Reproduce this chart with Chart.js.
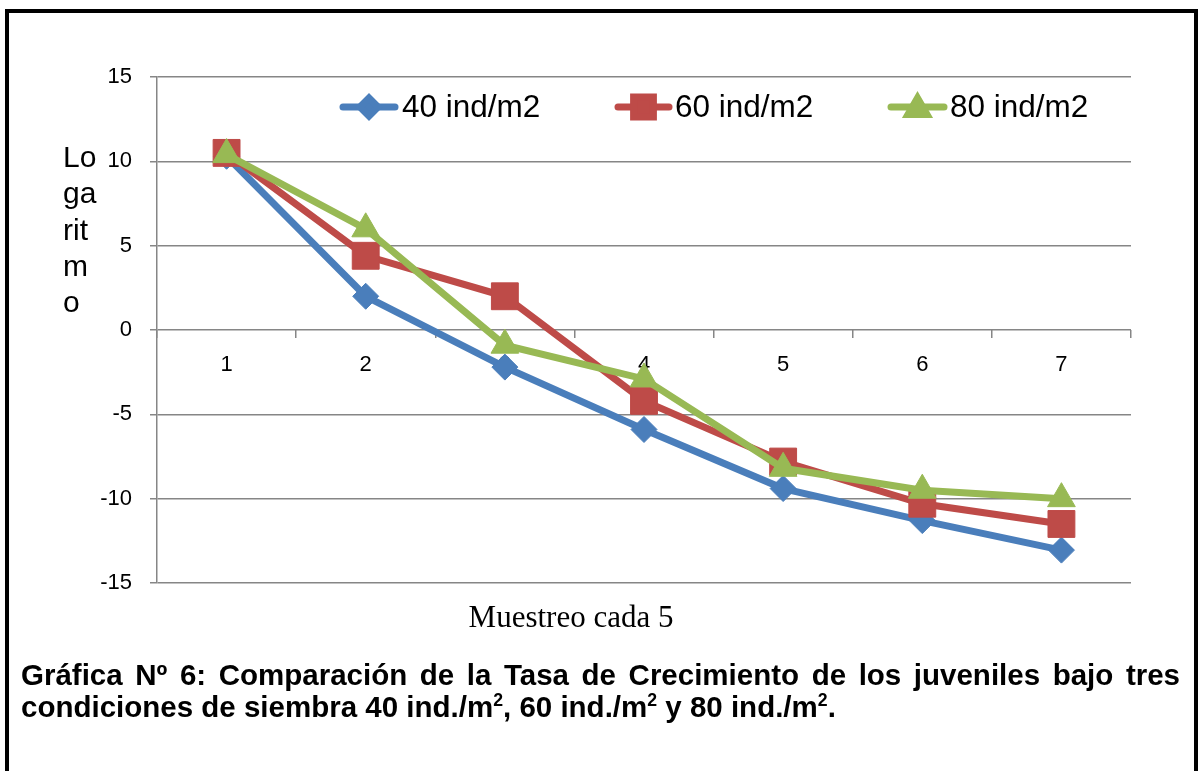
<!DOCTYPE html>
<html>
<head>
<meta charset="utf-8">
<title>Gráfica Nº 6</title>
<script src="https://cdn.jsdelivr.net/npm/chart.js@4.4.0/dist/chart.umd.min.js"></script>
<style>
    html, body { margin: 0; padding: 0; background: #fff; }
    #wrap { position: relative; width: 1199px; height: 771px; overflow: hidden; }
    #frame { position: absolute; left: 5px; top: 9px; width: 1185px; height: 800px; border: 4px solid #000; }
    #chart { position: absolute; left: 0; top: 0; }
    #ytitle { position: absolute; left: 63px; top: 139px; font: 30px 'Liberation Sans', Arial, sans-serif; line-height: 36.3px; color: #000; }
    #xtitle { position: absolute; left: 571px; top: 599px; transform: translateX(-50%); font: 31px 'Liberation Serif', 'Times New Roman', serif; line-height: 36px; white-space: nowrap; color: #000; }
    .cap { position: absolute; left: 21px; width: 1159px; font: bold 29.5px 'Liberation Sans', Arial, sans-serif; line-height: 32px; color: #000; white-space: nowrap; }
    #cap1 { top: 659px; text-align: justify; text-align-last: justify; white-space: normal; }
    #cap2 { top: 691px; text-align: left; }
    sup { font-size: 0.6em; line-height: 0; vertical-align: 0.6em; }
</style>
</head>
<body>
<div id="wrap">
    <div id="frame"></div>
    <canvas id="chart" width="1199" height="771"></canvas>
    <div id="ytitle">Lo<br>ga<br>rit<br>m<br>o</div>
    <div id="xtitle">Muestreo cada 5</div>
    <div class="cap" id="cap1">Gráfica Nº 6: Comparación de la Tasa de Crecimiento de los juveniles bajo tres</div>
    <div class="cap" id="cap2">condiciones de siembra 40 ind./m<sup>2</sup>, 60 ind./m<sup>2</sup> y 80 ind./m<sup>2</sup>.</div>
</div>
<script>
// Sampling points (x axis) and log growth values per density
const muestreos = ['1', '2', '3', '4', '5', '6', '7'];
const serieLabels = ['40 ind/m2', '60 ind/m2', '80 ind/m2'];
const valores40 = [10.3, 2.0, -2.2, -5.9, -9.4, -11.3, -13.05];
const valores60 = [10.5, 4.4, 2.0, -4.2, -7.8, -10.3, -11.5];
const valores80 = [10.4, 6.0, -0.9, -2.9, -8.2, -9.5, -10.0];
const yTicks = [-15, -10, -5, 0, 5, 10, 15];

// Excel 2007 palette
const colors = {
    blue: '#4a7ebb',
    red: '#be4b48',
    green: '#98b954',
    grid: '#868686'
};

const tickFont = { family: "'Liberation Sans', Arial, sans-serif", size: 22 };

// Legend drawn inside the plot area, Excel style (line + marker)
const legendInPlot = {
    id: 'legendInPlot',
    afterDraw(chart) {
        const ctx = chart.ctx;
        const y = 107;
        const items = [
            { x0: 340, x1: 398, tx: 402, style: 'rectRot', r: 9 },
            { x0: 615, x1: 672, tx: 675, style: 'rect', r: 14 },
            { x0: 888, x1: 947, tx: 950, style: 'triangle', r: 11 }
        ];
        ctx.save();
        chart.data.datasets.forEach((ds, i) => {
            const it = items[i];
            ctx.strokeStyle = ds.borderColor;
            ctx.lineWidth = 7;
            ctx.lineCap = 'round';
            ctx.beginPath();
            ctx.moveTo(it.x0 + 3, y);
            ctx.lineTo(it.x1 - 3, y);
            ctx.stroke();
            ctx.fillStyle = ds.borderColor;
            Chart.helpers.drawPoint(ctx, {
                pointStyle: it.style, radius: it.r, rotation: 0, borderWidth: 1
            }, (it.x0 + it.x1) / 2, it.style === 'triangle' ? y + 2 : y);
            ctx.fillStyle = '#000';
            ctx.font = "31.5px 'Liberation Sans', Arial, sans-serif";
            ctx.textBaseline = 'middle';
            ctx.textAlign = 'left';
            ctx.fillText(ds.label, it.tx, y + 1);
        });
        ctx.restore();
    }
};

function serie(label, data, color, style, radius, order) {
    return {
        label: label,
        data: data,
        borderColor: color,
        backgroundColor: color,
        borderWidth: 7,
        pointStyle: style,
        pointRadius: radius,
        pointHoverRadius: radius,
        pointBackgroundColor: color,
        pointBorderColor: color,
        pointBorderWidth: 1,
        tension: 0,
        order: order
    };
}

new Chart(document.getElementById('chart').getContext('2d'), {
    type: 'line',
    data: {
        labels: muestreos,
        datasets: [
            serie(serieLabels[0], valores40, colors.blue, 'rectRot', 13, 3),
            serie(serieLabels[1], valores60, colors.red, 'rect', 19, 2),
            serie(serieLabels[2], valores80, colors.green, 'triangle', 16, 1)
        ]
    },
    options: {
        responsive: false,
        animation: false,
        devicePixelRatio: 1,
        layout: { padding: { top: 77, right: 68, bottom: 188, left: 0 } },
        plugins: {
            legend: { display: false },
            tooltip: { enabled: false }
        },
        scales: {
            x: {
                type: 'category',
                offset: true,
                position: { y: 0 },
                grid: {
                    offset: true,
                    drawOnChartArea: false,
                    drawTicks: true,
                    tickLength: 8,
                    color: colors.grid,
                    lineWidth: 1.5
                },
                border: { display: false },
                ticks: { font: tickFont, color: '#000', padding: 14, maxRotation: 0 }
            },
            y: {
                min: -15,
                max: 15,
                afterBuildTicks(scale) {
                    scale.ticks = yTicks.map(v => ({ value: v }));
                },
                afterFit(scale) {
                    scale.width = 157;
                },
                grid: { color: colors.grid, lineWidth: 1.5, tickLength: 7 },
                border: { color: colors.grid, width: 1.5 },
                ticks: { font: tickFont, color: '#000', padding: 18 }
            }
        }
    },
    plugins: [legendInPlot]
});
</script>
</body>
</html>
